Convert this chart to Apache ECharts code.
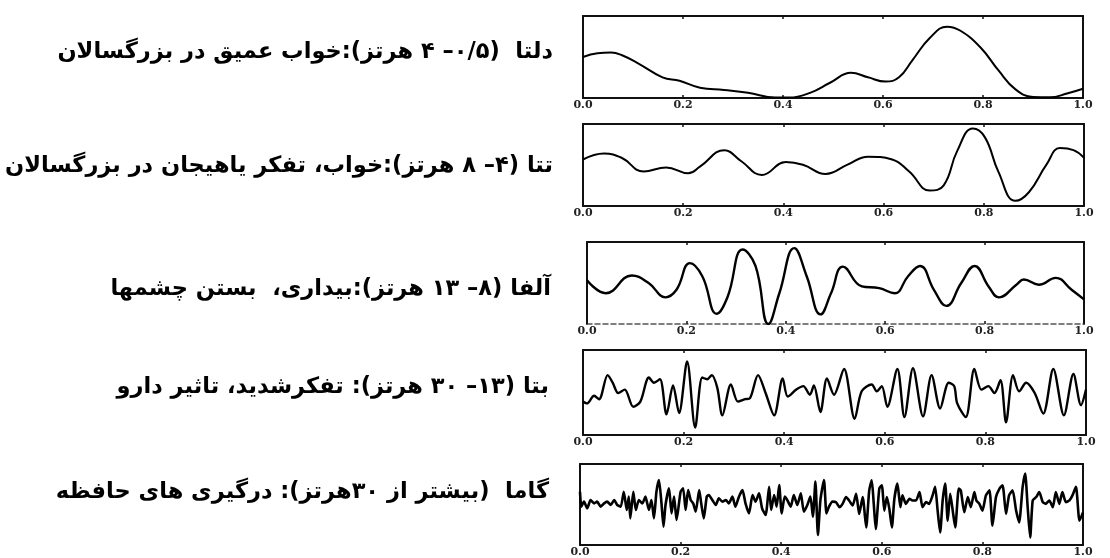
<!DOCTYPE html>
<html>
<head>
<meta charset="utf-8">
<script src="https://cdn.jsdelivr.net/npm/echarts@6/dist/echarts.min.js"></script>
<style>
  html, body { margin: 0; padding: 0; background: #fff; }
  #chart { width: 1110px; height: 558px; }
</style>
</head>
<body>
<div id="chart" dir="rtl"></div>
<script>
// Band descriptions, top to bottom
const bandLabels = [
  'دلتا  (۰/۵– ۴ هرتز):خواب عمیق در بزرگسالان',
  'تتا (۴– ۸ هرتز):خواب، تفکر یاهیجان در بزرگسالان',
  'آلفا (۸– ۱۳ هرتز):بیداری،  بستن چشمها',
  'بتا (۱۳– ۳۰ هرتز): تفکرشدید، تاثیر دارو',
  'گاما  (بیشتر از ۳۰هرتز): درگیری های حافظه'
];

// Time axis ticks (seconds)
const xTickValues = [0, 0.2, 0.4, 0.6, 0.8, 1.0];
const xTickLabels = ['0.0', '0.2', '0.4', '0.6', '0.8', '1.0'];

// Sampled waveforms: [time, normalised amplitude]
const deltaWave = [
  [0, 0.50], [0.029, 0.546], [0.056, 0.555], [0.077, 0.525], [0.111, 0.42],
  [0.159, 0.252], [0.193, 0.21], [0.234, 0.126], [0.282, 0.097], [0.33, 0.063],
  [0.385, 0.005], [0.413, 0.005], [0.454, 0.063], [0.495, 0.189], [0.536, 0.307],
  [0.57, 0.252], [0.605, 0.2], [0.632, 0.252], [0.659, 0.462], [0.694, 0.735],
  [0.728, 0.87], [0.755, 0.82], [0.796, 0.61], [0.831, 0.336], [0.865, 0.105],
  [0.9, 0.013], [0.934, 0.008], [0.968, 0.055], [1.0, 0.113]
];

const thetaWave = [
  [0, 0.567], [0.042, 0.639], [0.077, 0.588], [0.121, 0.42], [0.166, 0.471],
  [0.21, 0.399], [0.234, 0.483], [0.282, 0.681], [0.316, 0.546], [0.357, 0.378],
  [0.405, 0.538], [0.439, 0.504], [0.484, 0.391], [0.528, 0.504], [0.569, 0.601],
  [0.617, 0.567], [0.651, 0.42], [0.692, 0.189], [0.72, 0.252], [0.747, 0.672],
  [0.778, 0.945], [0.802, 0.84], [0.829, 0.42], [0.863, 0.063], [0.89, 0.168],
  [0.925, 0.504], [0.952, 0.706], [0.979, 0.681], [1.0, 0.588]
];

const alphaWave = [
  [0, 0.533], [0.038, 0.375], [0.09, 0.592], [0.124, 0.5], [0.158, 0.325],
  [0.18, 0.417], [0.207, 0.742], [0.232, 0.583], [0.261, 0.125], [0.283, 0.333],
  [0.313, 0.908], [0.339, 0.708], [0.365, 0.0], [0.387, 0.375], [0.417, 0.925],
  [0.442, 0.583], [0.47, 0.117], [0.491, 0.375], [0.515, 0.7], [0.553, 0.458],
  [0.588, 0.438], [0.619, 0.375], [0.646, 0.583], [0.67, 0.708], [0.698, 0.417],
  [0.723, 0.221], [0.753, 0.5], [0.78, 0.708], [0.808, 0.458], [0.829, 0.325],
  [0.864, 0.479], [0.879, 0.542], [0.909, 0.479], [0.943, 0.563], [0.975, 0.417],
  [1.0, 0.3]
];

const betaWave = [
  [0, 0.393], [0.008, 0.372], [0.022, 0.462], [0.032, 0.421], [0.049, 0.704],
  [0.059, 0.615], [0.070, 0.494], [0.083, 0.534], [0.100, 0.332], [0.114, 0.393],
  [0.131, 0.676], [0.141, 0.615], [0.153, 0.656], [0.166, 0.243], [0.179, 0.583],
  [0.191, 0.259], [0.207, 0.866], [0.223, 0.089], [0.237, 0.676], [0.247, 0.656],
  [0.256, 0.704], [0.267, 0.555], [0.277, 0.231], [0.294, 0.595], [0.308, 0.393],
  [0.322, 0.421], [0.332, 0.433], [0.348, 0.704], [0.363, 0.494], [0.380, 0.231],
  [0.397, 0.664], [0.407, 0.453], [0.424, 0.534], [0.438, 0.575], [0.451, 0.474],
  [0.459, 0.583], [0.472, 0.271], [0.485, 0.664], [0.499, 0.474], [0.519, 0.777],
  [0.540, 0.190], [0.554, 0.514], [0.574, 0.595], [0.584, 0.514], [0.594, 0.575],
  [0.605, 0.332], [0.625, 0.777], [0.639, 0.211], [0.656, 0.785], [0.676, 0.219],
  [0.693, 0.704], [0.710, 0.312], [0.727, 0.615], [0.738, 0.575], [0.744, 0.372],
  [0.761, 0.211], [0.778, 0.777], [0.792, 0.534], [0.806, 0.575], [0.818, 0.494],
  [0.830, 0.644], [0.841, 0.150], [0.855, 0.704], [0.867, 0.514], [0.881, 0.615],
  [0.898, 0.494], [0.915, 0.251], [0.935, 0.777], [0.956, 0.231], [0.975, 0.717],
  [0.990, 0.352], [1.0, 0.534]
];

const gammaWave = [
  [0, 0.658], [0.0026, 0.473], [0.0079, 0.535], [0.0145, 0.453], [0.021, 0.556],
  [0.028, 0.514], [0.034, 0.535], [0.041, 0.473], [0.048, 0.514], [0.054, 0.535],
  [0.061, 0.494], [0.068, 0.556], [0.074, 0.494], [0.081, 0.473], [0.087, 0.658],
  [0.093, 0.432], [0.097, 0.597], [0.100, 0.329], [0.106, 0.658], [0.111, 0.432],
  [0.117, 0.556], [0.124, 0.514], [0.130, 0.597], [0.137, 0.432], [0.142, 0.556],
  [0.147, 0.329], [0.152, 0.658], [0.157, 0.802], [0.162, 0.514], [0.166, 0.226],
  [0.170, 0.494], [0.177, 0.700], [0.182, 0.391], [0.187, 0.597], [0.192, 0.309],
  [0.200, 0.658], [0.205, 0.700], [0.210, 0.432], [0.215, 0.679], [0.220, 0.556],
  [0.225, 0.514], [0.230, 0.412], [0.237, 0.679], [0.241, 0.514], [0.246, 0.329],
  [0.252, 0.597], [0.256, 0.617], [0.263, 0.556], [0.270, 0.494], [0.276, 0.576],
  [0.283, 0.535], [0.290, 0.556], [0.296, 0.514], [0.303, 0.597], [0.309, 0.473],
  [0.316, 0.597], [0.323, 0.679], [0.329, 0.514], [0.336, 0.391], [0.343, 0.617],
  [0.349, 0.535], [0.356, 0.638], [0.362, 0.453], [0.369, 0.370], [0.376, 0.720],
  [0.380, 0.432], [0.386, 0.617], [0.391, 0.473], [0.396, 0.741], [0.401, 0.391],
  [0.407, 0.597], [0.412, 0.556], [0.419, 0.473], [0.425, 0.617], [0.432, 0.494],
  [0.439, 0.638], [0.445, 0.412], [0.452, 0.494], [0.458, 0.597], [0.463, 0.350],
  [0.468, 0.782], [0.473, 0.123], [0.478, 0.556], [0.485, 0.802], [0.490, 0.391],
  [0.495, 0.473], [0.502, 0.535], [0.509, 0.529], [0.516, 0.467], [0.522, 0.508],
  [0.529, 0.592], [0.535, 0.550], [0.542, 0.488], [0.549, 0.633], [0.555, 0.383],
  [0.562, 0.592], [0.569, 0.217], [0.575, 0.675], [0.580, 0.800], [0.584, 0.508],
  [0.588, 0.196], [0.595, 0.696], [0.600, 0.738], [0.605, 0.425], [0.610, 0.592],
  [0.615, 0.446], [0.620, 0.217], [0.625, 0.571], [0.631, 0.758], [0.637, 0.467],
  [0.641, 0.613], [0.648, 0.508], [0.655, 0.571], [0.661, 0.550], [0.668, 0.550],
  [0.675, 0.654], [0.681, 0.467], [0.688, 0.529], [0.694, 0.508], [0.701, 0.613],
  [0.706, 0.717], [0.711, 0.425], [0.716, 0.154], [0.721, 0.550], [0.726, 0.758],
  [0.731, 0.300], [0.736, 0.633], [0.741, 0.425], [0.746, 0.217], [0.753, 0.696],
  [0.757, 0.675], [0.764, 0.404], [0.771, 0.592], [0.777, 0.467], [0.784, 0.654],
  [0.788, 0.550], [0.794, 0.508], [0.800, 0.425], [0.807, 0.613], [0.814, 0.675],
  [0.820, 0.238], [0.827, 0.592], [0.834, 0.696], [0.840, 0.738], [0.847, 0.383],
  [0.853, 0.613], [0.860, 0.675], [0.867, 0.425], [0.873, 0.279], [0.880, 0.717],
  [0.885, 0.883], [0.890, 0.467], [0.895, 0.092], [0.900, 0.550], [0.907, 0.592],
  [0.913, 0.654], [0.920, 0.529], [0.926, 0.508], [0.933, 0.550], [0.940, 0.467],
  [0.946, 0.654], [0.953, 0.508], [0.959, 0.654], [0.966, 0.529], [0.973, 0.550],
  [0.979, 0.613], [0.986, 0.717], [0.993, 0.300], [1.0, 0.40]
];

const waves = [deltaWave, thetaWave, alphaWave, betaWave, gammaWave];

// Panel geometry and stroke styling
const panelLayout = [
  { left: 583, top: 16,  width: 500, height: 82, smooth: 0.45, lineWidth: 2,   bottomDash: false },
  { left: 583, top: 124, width: 501, height: 82, smooth: 0.45, lineWidth: 2,   bottomDash: false },
  { left: 587, top: 242, width: 497, height: 82, smooth: 0.45, lineWidth: 2.4, bottomDash: true },
  { left: 583, top: 350, width: 503, height: 85, smooth: 0.3,  lineWidth: 2.4, bottomDash: false },
  { left: 580, top: 464, width: 503, height: 81, smooth: 0.2,  lineWidth: 2.6, bottomDash: false }
];
const labelLayout = [
  { x: 553, y: 52 },
  { x: 553, y: 166 },
  { x: 551, y: 289 },
  { x: 549, y: 387 },
  { x: 549, y: 492 }
];

const frameLine = { color: '#111', width: 2 };

const grid = [], xAxis = [], yAxis = [], series = [];
panelLayout.forEach((p, i) => {
  grid.push({ left: p.left, top: p.top, width: p.width, height: p.height, containLabel: false });
  const bottomLine = p.bottomDash
    ? { color: '#555', width: 1.5, type: [5, 3] }
    : frameLine;
  xAxis.push({
    gridIndex: i, type: 'value', min: 0, max: 1, interval: 0.2, position: 'bottom',
    axisLine: { show: true, onZero: false, lineStyle: bottomLine },
    axisTick: { show: true, inside: true, length: 3, lineStyle: { color: '#111', width: 1.5 } },
    axisLabel: {
      show: true, margin: 2, color: '#222', fontSize: 11, fontWeight: 'bold',
      fontFamily: 'DejaVu Serif',
      formatter: v => xTickLabels[xTickValues.findIndex(t => Math.abs(t - v) < 1e-6)]
    },
    splitLine: { show: false }
  });
  xAxis.push({
    gridIndex: i, type: 'value', min: 0, max: 1, interval: 0.2, position: 'top',
    axisLine: { show: true, onZero: false, lineStyle: frameLine },
    axisTick: { show: true, inside: true, length: 3, lineStyle: { color: '#111', width: 1.5 } },
    axisLabel: { show: false },
    splitLine: { show: false }
  });
  ['left', 'right'].forEach(pos => {
    yAxis.push({
      gridIndex: i, type: 'value', min: 0, max: 1, position: pos,
      axisLine: { show: true, onZero: false, lineStyle: frameLine },
      axisTick: { show: false }, axisLabel: { show: false }, splitLine: { show: false }
    });
  });
  series.push({
    type: 'line', xAxisIndex: 2 * i, yAxisIndex: 2 * i, data: waves[i],
    showSymbol: false, smooth: p.smooth, clip: true,
    lineStyle: { color: '#000', width: p.lineWidth, join: 'round' }
  });
});

const graphic = bandLabels.map((txt, i) => ({
  type: 'text', x: labelLayout[i].x, y: labelLayout[i].y,
  style: {
    text: txt, align: 'right', verticalAlign: 'middle',
    font: 'bold 22.5px "DejaVu Sans"', fill: '#000'
  }
}));

const chart = echarts.init(document.getElementById('chart'), null, { renderer: 'canvas' });
chart.setOption({
  animation: false,
  backgroundColor: '#fff',
  grid, xAxis, yAxis, series, graphic
});
</script>
</body>
</html>
